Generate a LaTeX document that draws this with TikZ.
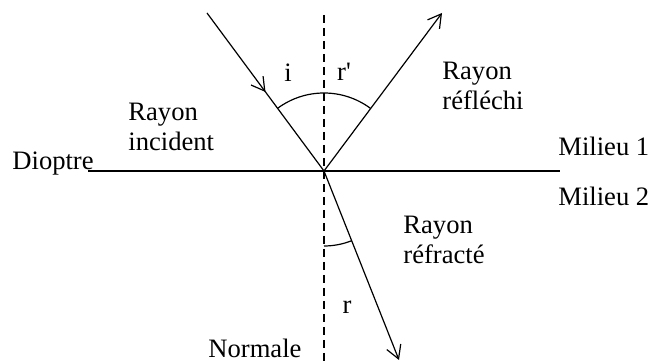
\documentclass[tikz,border=0pt]{standalone}
\usepackage{fontspec}
\setmainfont{Liberation Serif}
\usetikzlibrary{arrows.meta,decorations.markings,calc}
\begin{document}
\begin{tikzpicture}[x=0.5pt,y=0.5pt,
  lbl/.style={inner sep=0pt,font=\fontsize{13.3}{14.8}\selectfont},
  ray/.style={line width=0.6pt},
  barb/.style={-{Straight Barb[length=6.5pt,width=7.5pt,line width=0.6pt]}},
  midbarb/.style={postaction={decorate},decoration={markings,
     mark=at position 0.5 with {\arrow{Straight Barb[length=6.5pt,width=7.5pt,line width=0.6pt]}}}}]
\useasboundingbox (0,0) rectangle (653,363);
% points
\coordinate (O) at (324,192);
\coordinate (inc) at (207,350);
\coordinate (refl) at (442,350);
\coordinate (refr) at (399,3);
\coordinate (ntop) at (324,348);
\coordinate (nbot) at (324,0);
\coordinate (dl) at (88,192);
\coordinate (dr) at (560,192);
% dioptre and normal
\draw[line width=0.9pt] (dl) -- (dr);
\draw[ray,dash pattern=on 4pt off 2.5pt] (ntop) -- (nbot);
% rays
\draw[ray,midbarb] (inc) -- (O);
\draw[ray,barb] (O) -- (refl);
\draw[ray,barb] (O) -- (refr);
% angle arcs
\draw[ray] ($(O)+(53.4:78)$) arc[start angle=53.4,end angle=126.6,radius=78];
\draw[ray] ($(O)+(270:75)$) arc[start angle=270,end angle=291.8,radius=75];
% labels
\node[lbl,anchor=base west] (dio) at (12,193) {Dioptre};
\node[lbl,anchor=base west] (m1) at (558,207) {Milieu 1};
\node[lbl,anchor=base west] (m2) at (558,157) {Milieu 2};
\node[lbl,anchor=base west] (nor) at (208,5) {Normale};
\node[lbl,anchor=north west,align=left] (rinc) at (128,260) {Rayon\\incident};
\node[lbl,anchor=north west,align=left] (rrefl) at (442,301) {Rayon\\réfléchi};
\node[lbl,anchor=north west,align=left] (rrefr) at (403,147) {Rayon\\réfracté};
\node[lbl] (ai) at (288,290) {i};
\node[lbl] (ar1) at (344,291) {r\textquotesingle};
\node[lbl] (ar) at (347,56) {r};
\end{tikzpicture}
\end{document}
